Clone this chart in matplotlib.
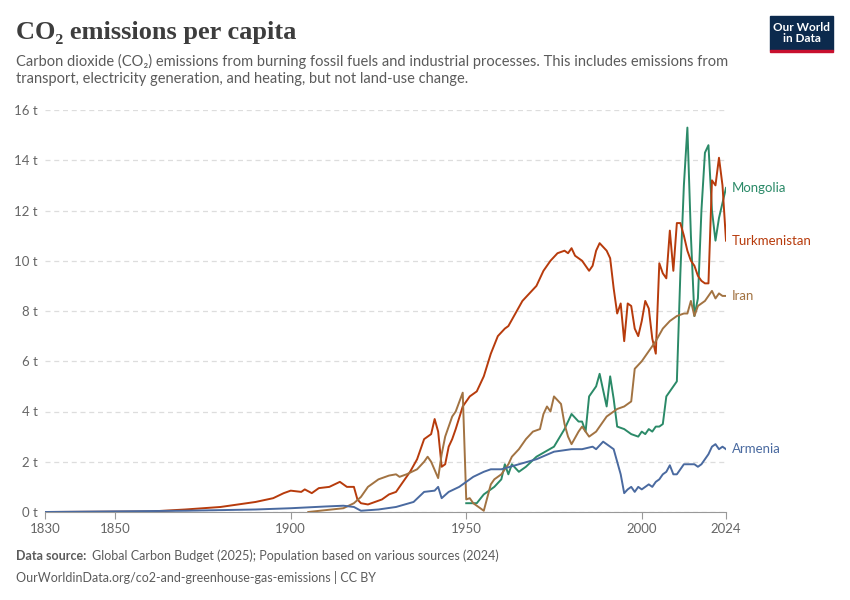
import matplotlib
matplotlib.use('Agg')
import matplotlib.pyplot as plt
from matplotlib.patches import Rectangle

# values (t CO2 per person)
turkmenistan_years = [1830, 1860, 1870, 1880, 1885, 1890, 1895, 1898, 1900, 1903, 1904, 1906, 1908, 1911, 1914, 1916, 1918,
                      1919, 1920, 1922, 1924, 1926, 1928, 1930, 1931, 1932, 1934, 1936, 1937, 1938, 1939, 1940, 1941, 1942,
                      1943, 1944, 1945, 1946, 1947, 1949, 1951, 1953, 1955, 1957, 1959, 1961, 1962, 1964, 1966, 1968, 1970,
                      1972, 1974, 1976, 1978, 1979, 1980, 1981, 1983, 1985, 1986, 1987, 1988, 1990, 1991, 1992, 1993, 1994,
                      1995, 1996, 1997, 1998, 1999, 2000, 2001, 2002, 2003, 2004, 2005, 2006, 2007, 2008, 2009, 2010, 2011,
                      2012, 2013, 2014, 2015, 2016, 2017, 2018, 2019, 2020, 2021, 2022, 2023, 2024]
turkmenistan = [0.0, 0.02, 0.1, 0.2, 0.3, 0.4, 0.55, 0.75, 0.85, 0.8, 0.9, 0.75, 0.95, 1.0, 1.2, 1.0, 1.0,
                0.5, 0.35, 0.3, 0.4, 0.5, 0.7, 0.8, 1.0, 1.2, 1.6, 2.1, 2.5, 2.9, 3.0, 3.1, 3.7, 3.2,
                1.8, 1.9, 2.6, 2.9, 3.3, 4.2, 4.6, 4.8, 5.4, 6.3, 7.0, 7.3, 7.4, 7.9, 8.4, 8.7, 9.0,
                9.6, 10.0, 10.3, 10.4, 10.3, 10.5, 10.2, 10.0, 9.6, 9.8, 10.4, 10.7, 10.4, 10.1, 8.9, 7.9, 8.3,
                6.8, 8.3, 8.2, 7.3, 7.0, 7.6, 8.4, 8.1, 6.9, 6.3, 9.9, 9.5, 9.3, 11.2, 9.6, 11.5, 11.5,
                11.0, 10.4, 10.0, 9.8, 9.4, 9.2, 9.1, 9.1, 13.2, 13.0, 14.1, 13.0, 10.8]

mongolia_years = [1950, 1953, 1955, 1958, 1960, 1961, 1962, 1963, 1965, 1967, 1970, 1975, 1978, 1980, 1982, 1983, 1984,
                  1985, 1987, 1988, 1990, 1991, 1992, 1993, 1995, 1997, 1999, 2000, 2001, 2002, 2003, 2004, 2005, 2006,
                  2007, 2008, 2009, 2010, 2011, 2012, 2013, 2014, 2015, 2016, 2017, 2018, 2019, 2020, 2021, 2022, 2023, 2024]
mongolia = [0.35, 0.35, 0.7, 1.0, 1.3, 1.9, 1.5, 1.9, 1.6, 1.8, 2.2, 2.6, 3.3, 3.9, 3.6, 3.6, 3.2,
            4.6, 5.0, 5.5, 4.2, 5.4, 4.5, 3.4, 3.3, 3.1, 3.0, 3.2, 3.1, 3.3, 3.2, 3.4, 3.4, 3.5,
            4.6, 4.8, 5.0, 5.2, 9.5, 13.0, 15.3, 11.0, 7.8, 8.5, 12.0, 14.3, 14.6, 12.0, 10.8, 11.7, 12.3, 12.9]

iran_years = [1905, 1915, 1918, 1920, 1922, 1925, 1928, 1930, 1931, 1933, 1936, 1938, 1939, 1940, 1942, 1943, 1944,
              1946, 1947, 1949, 1950, 1951, 1952, 1953, 1955, 1957, 1958, 1960, 1962, 1963, 1965, 1967, 1969, 1971,
              1972, 1973, 1974, 1975, 1977, 1978, 1979, 1980, 1982, 1983, 1985, 1987, 1988, 1990, 1991, 1993, 1995,
              1997, 1998, 2000, 2002, 2004, 2006, 2008, 2010, 2012, 2013, 2014, 2015, 2016, 2018, 2020, 2021, 2022,
              2023, 2024]
iran = [0.0, 0.15, 0.35, 0.6, 1.0, 1.3, 1.45, 1.5, 1.4, 1.5, 1.7, 2.0, 2.2, 2.0, 1.35, 2.3, 3.0,
        3.8, 4.0, 4.75, 0.5, 0.55, 0.35, 0.25, 0.05, 1.1, 1.3, 1.5, 1.9, 2.2, 2.5, 2.9, 3.2, 3.3,
        3.9, 4.2, 4.0, 4.6, 4.3, 3.5, 3.0, 2.7, 3.2, 3.4, 3.0, 3.2, 3.4, 3.8, 3.9, 4.1, 4.2,
        4.4, 5.7, 6.0, 6.4, 6.8, 7.3, 7.6, 7.8, 7.9, 7.9, 8.4, 7.8, 8.2, 8.4, 8.8, 8.5, 8.7,
        8.6, 8.6]

armenia_years = [1830, 1870, 1890, 1900, 1910, 1915, 1918, 1920, 1925, 1930, 1935, 1938, 1941, 1942, 1943, 1945, 1948,
                 1950, 1952, 1955, 1957, 1960, 1965, 1970, 1975, 1980, 1983, 1986, 1987, 1989, 1990, 1992, 1993, 1994,
                 1995, 1996, 1997, 1998, 1999, 2000, 2001, 2002, 2003, 2004, 2005, 2006, 2007, 2008, 2009, 2010, 2011,
                 2012, 2013, 2014, 2015, 2016, 2017, 2018, 2019, 2020, 2021, 2022, 2023, 2024]
armenia = [0.0, 0.05, 0.1, 0.15, 0.22, 0.25, 0.2, 0.05, 0.1, 0.2, 0.4, 0.8, 0.85, 1.0, 0.55, 0.8, 1.0,
           1.2, 1.4, 1.6, 1.7, 1.7, 1.9, 2.1, 2.4, 2.5, 2.5, 2.6, 2.5, 2.8, 2.7, 2.5, 2.0, 1.5,
           0.75, 0.9, 1.0, 0.8, 1.0, 0.9, 1.0, 1.1, 1.0, 1.2, 1.3, 1.5, 1.6, 1.86, 1.5, 1.5, 1.7,
           1.9, 1.9, 1.9, 1.9, 1.8, 1.9, 2.1, 2.3, 2.6, 2.7, 2.5, 2.6, 2.5]

series = [
    ("Mongolia", mongolia_years, mongolia, "#2b8a68", 12.9),
    ("Turkmenistan", turkmenistan_years, turkmenistan, "#b73b0c", 10.8),
    ("Iran", iran_years, iran, "#a27342", 8.6),
    ("Armenia", armenia_years, armenia, "#4a6aa0", 2.5),
]
y_ticks = [0, 2, 4, 6, 8, 10, 12, 14, 16]
x_ticks = [1830, 1850, 1900, 1950, 2000, 2024]

W, H = 850, 600
fig = plt.figure(figsize=(W / 100, H / 100), dpi=100)
ax = fig.add_axes([45 / W, 1 - 512 / H, (726 - 45) / W, (512 - 110) / H])

for name, xs, ys, color, lab_y in series:
    ax.plot(xs, ys, color=color, lw=1.4, zorder=3)
    ax.text(2025.6, lab_y, name, color=color, fontsize=9.5, va='center', family='Lato')

ax.set_xlim(1830, 2024)
ax.set_ylim(0, 16)
ax.set_yticks(y_ticks)
ax.set_yticklabels([f"{v} t" for v in y_ticks], color='#666666', fontsize=9.5, family='Lato')
ax.set_xticks(x_ticks)
ax.set_xticklabels([str(v) for v in x_ticks], color='#666666', fontsize=9.5, family='Lato')
ax.tick_params(axis='y', length=0, pad=5)
ax.tick_params(axis='x', length=5, color='#999999', pad=3)
ax.grid(axis='y', color='#dddddd', ls=(0, (4, 3)), lw=0.9)
for s in ['top', 'right', 'left']:
    ax.spines[s].set_visible(False)
ax.spines['bottom'].set_color('#999999')

fig.text(16 / W, 1 - 32 / H, "CO₂ emissions per capita", fontsize=19, family='Liberation Serif',
         weight='bold', color='#3d3d3d', va='center')
fig.text(16 / W, 1 - 70 / H,
         "Carbon dioxide (CO₂) emissions from burning fossil fuels and industrial processes. This includes emissions from\n"
         "transport, electricity generation, and heating, but not land-use change.",
         fontsize=10.5, color='#5b5b5b', va='center', family='Lato', linespacing=1.35)
fig.text(16 / W, 1 - 556 / H, "Data source:", fontsize=9, color='#5b5b5b', va='center', family='Lato', weight='bold')
fig.text(92 / W, 1 - 556 / H, "Global Carbon Budget (2025); Population based on various sources (2024)",
         fontsize=9, color='#5b5b5b', va='center', family='Lato')
fig.text(16 / W, 1 - 577 / H, "OurWorldinData.org/co2-and-greenhouse-gas-emissions | CC BY",
         fontsize=9, color='#5b5b5b', va='center', family='Lato')

# logo
fig.patches.append(Rectangle((770 / W, 1 - 50 / H), 63 / W, 34 / H, transform=fig.transFigure, color='#0c2a4d'))
fig.patches.append(Rectangle((770 / W, 1 - 52 / H), 63 / W, 2.5 / H, transform=fig.transFigure, color='#c8102e'))
fig.text(801.5 / W, 1 - 33 / H, "Our World\nin Data", color='white', fontsize=8.5, ha='center', va='center',
         family='Lato', weight='bold', linespacing=1.1)

fig.savefig('out.png', dpi=100)
